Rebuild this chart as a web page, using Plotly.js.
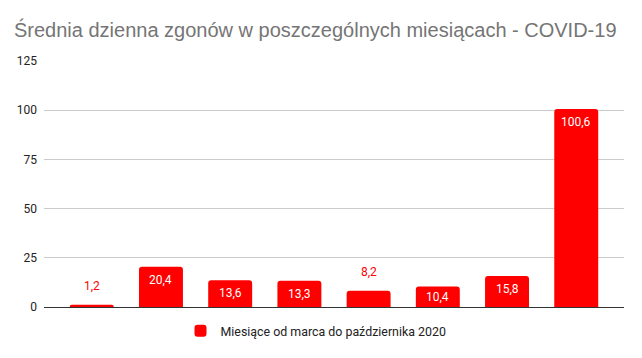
<!DOCTYPE html>
<html>
<head>
<meta charset="utf-8">
<script src="https://cdn.plot.ly/plotly-3.0.1.min.js"></script>
<style>html,body{margin:0;padding:0;background:#fff;}#chart{width:642px;height:358px;}</style>
</head>
<body>
<div id="chart"></div>
<script>
const months = ["Marzec", "Kwiecień", "Maj", "Czerwiec", "Lipiec", "Sierpień", "Wrzesień", "Październik"];
const values = [1.2, 20.4, 13.6, 13.3, 8.2, 10.4, 15.8, 100.6];
const labels = ["1,2", "20,4", "13,6", "13,3", "8,2", "10,4", "15,8", "100,6"];
const labelInside = [false, true, true, true, false, true, true, true];
const seriesName = "Miesiące od marca do października 2020";
const yTicks = [0, 25, 50, 75, 100, 125];

const W = 642, H = 358;
const margin = {l: 44, r: 18, t: 61, b: 51};
const yMax = 125;
const plotH = H - margin.t - margin.b;
const plotW = W - margin.l - margin.r;
const labelFont = "Roboto, Arial, sans-serif";

const annotations = values.map((v, i) => {
  const barPx = v * plotH / yMax;
  const inside = labelInside[i];
  return {
    x: months[i], y: v, xref: "x", yref: "y",
    text: labels[i], showarrow: false,
    xanchor: "center", yanchor: "middle",
    yshift: inside ? -Math.min(13, barPx / 2) : 19,
    font: {family: labelFont, size: 12, color: inside ? "#ffffff" : "#ff0000"}
  };
});

const trace = {
  type: "bar",
  x: months,
  y: values,
  name: seriesName,
  marker: {color: "#ff0000", cornerradius: 3},
  showlegend: true,
  hoverinfo: "none"
};

const layout = {
  width: W,
  height: H,
  margin: margin,
  paper_bgcolor: "#ffffff",
  plot_bgcolor: "#ffffff",
  font: {family: labelFont, size: 12, color: "#222222"},
  title: {
    text: "Średnia dzienna zgonów w poszczególnych miesiącach - COVID-19",
    font: {family: "Arial, 'Liberation Sans', sans-serif", size: 20, color: "#757575"},
    x: 14 / W, xanchor: "left", xref: "container",
    y: 1 - 30 / H, yanchor: "middle", yref: "container"
  },
  bargap: 0.365,
  xaxis: {
    type: "category",
    range: [-0.69, 7.69],
    showticklabels: false,
    showgrid: false,
    zeroline: false,
    showline: false,
    ticks: "",
    fixedrange: true
  },
  yaxis: {
    range: [0, yMax],
    tickvals: yTicks,
    ticktext: yTicks.map(String),
    showgrid: true,
    gridcolor: "#cccccc",
    gridwidth: 1,
    zeroline: true,
    zerolinecolor: "#333333",
    zerolinewidth: 1,
    showline: false,
    ticks: "",
    ticklabelstandoff: 6,
    tickfont: {family: labelFont, size: 12, color: "#222222"},
    fixedrange: true
  },
  annotations: annotations,
  showlegend: true,
  legend: {
    orientation: "h",
    x: (W / 2 - 5 - margin.l) / plotW, xanchor: "center",
    y: -0.098, yanchor: "middle",
    font: {family: labelFont, size: 12.4, color: "#222222"},
    itemwidth: 30
  }
};

Plotly.newPlot("chart", [trace], layout, {displayModeBar: false, staticPlot: true});
</script>
</body>
</html>
